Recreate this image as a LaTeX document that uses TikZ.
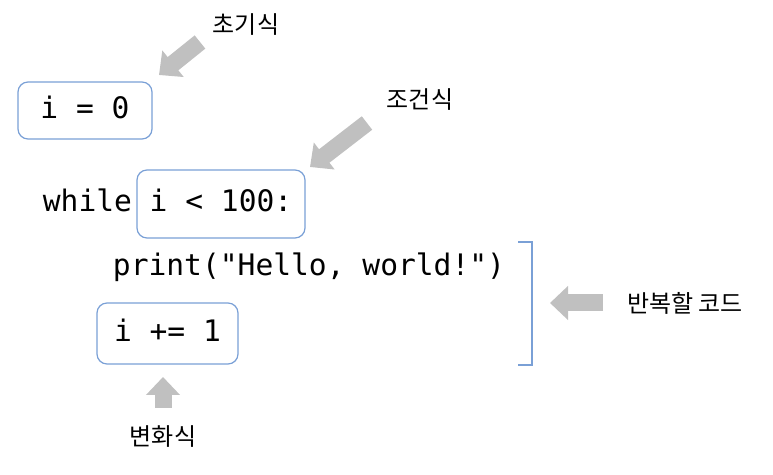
\documentclass[tikz,border=0pt]{standalone}
\usepackage{fontspec}
\usetikzlibrary{arrows.meta,positioning}
\newfontfamily\codefont{DejaVu Sans Mono}
\newfontfamily\kofont{Noto Sans CJK KR}
\definecolor{boxblue}{RGB}{122,160,214}
\definecolor{hintgray}{RGB}{192,192,192}

\begin{document}
\begin{tikzpicture}[x=0.5pt,y=-0.5pt,
  code/.style={font=\codefont\fontsize{14.8}{18}\selectfont,inner sep=0pt,
               text height=11pt,text depth=3pt},
  codebox/.style={code,draw=boxblue,line width=0.6pt,rounded corners=5pt},
  hint/.style={font=\kofont\fontsize{12}{14}\selectfont,inner sep=0pt},
  pointer/.style={draw=hintgray,line width=8.5pt,
                  -{Triangle[length=9pt,width=16.5pt]}}]
\useasboundingbox (0,0) rectangle (773,475);
% code lines
\node[codebox,minimum width=67pt,minimum height=28.5pt] (initBox) at (85,110.5) {i = 0};
\node[codebox,minimum width=84pt,minimum height=34pt] (condBox) at (221,204) {i < 100:};
\node[code,left=2pt of condBox] (whileKw) {while};
\node[code] (printLine) at (309,268) {print(\char34 Hello, world!\char34)};
\node[codebox,minimum width=70.5pt,minimum height=30.5pt] (stepBox) at (167.5,333.5) {i += 1};
% labels
\node[hint] (initLbl) at (246,25) {초기식};
\node[hint] (condLbl) at (420,100) {조건식};
\node[hint] (loopLbl) at (685,303) {반복할 코드};
\node[hint] (stepLbl) at (163,437) {변화식};
% bracket round the loop body
\coordinate (loopTop) at (518,242);
\coordinate (loopBot) at (518,365);
\draw[boxblue,line width=0.6pt] (loopTop) -- ++(14,0) |- (loopBot);
% gray pointers
\coordinate (initTail) at (200,42);
\coordinate (initTip) at (159,75);
\coordinate (condTail) at (367,123);
\coordinate (condTip) at (310,167);
\coordinate (loopTail) at (603,303);
\coordinate (loopTip) at (550,303);
\coordinate (stepTail) at (163,408);
\coordinate (stepTip) at (163,377);
\draw[pointer] (initTail) -- (initTip);
\draw[pointer] (condTail) -- (condTip);
\draw[pointer] (loopTail) -- (loopTip);
\draw[pointer] (stepTail) -- (stepTip);
\end{tikzpicture}
\end{document}
